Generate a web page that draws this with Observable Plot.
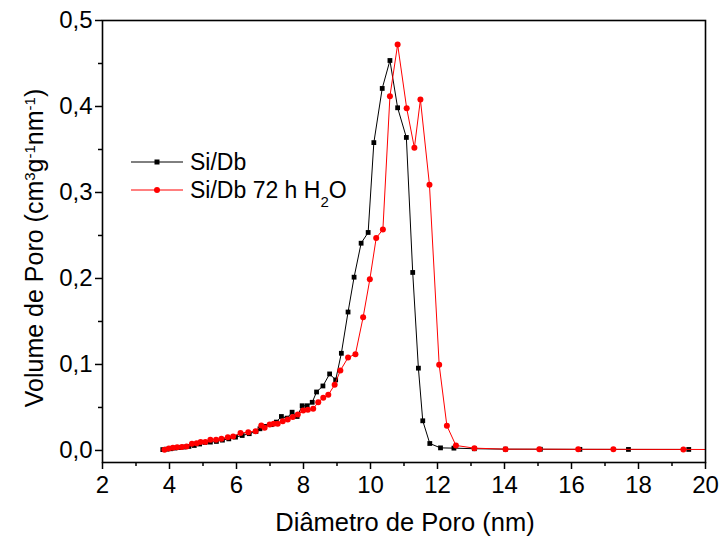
<!DOCTYPE html>
<html><head><meta charset="utf-8">
<script src="https://cdn.jsdelivr.net/npm/d3@7"></script>
<script src="https://cdn.jsdelivr.net/npm/@observablehq/plot@0.6"></script>
<style>
body{margin:0;background:#fff}
svg{font-family:"Liberation Sans",Arial,sans-serif}
</style>
</head><body><div id="chart"></div>
<script>
// Si/Db
const blackX = [3.80,3.92,4.04,4.16,4.29,4.43,4.58,4.74,4.90,5.06,5.22,5.40,5.58,5.77,5.97,6.17,6.38,6.58,6.70,6.84,7.04,7.19,7.34,7.51,7.66,7.81,7.96,8.11,8.26,8.39,8.58,8.78,8.96,9.13,9.33,9.51,9.72,9.93,10.10,10.35,10.58,10.81,11.07,11.26,11.43,11.56,11.77,12.09,12.49,13.10,14.03,15.07,16.25,17.70,19.50];
const blackY = [0.001,0.0015,0.002,0.0028,0.0035,0.004,0.0047,0.0058,0.0075,0.0093,0.0097,0.0105,0.012,0.0135,0.0155,0.0174,0.0195,0.022,0.0252,0.028,0.030,0.033,0.0395,0.0376,0.0445,0.0395,0.052,0.052,0.056,0.068,0.075,0.089,0.082,0.113,0.161,0.2015,0.241,0.2535,0.358,0.421,0.4535,0.3985,0.364,0.207,0.0957,0.0345,0.0081,0.003,0.0027,0.002,0.0015,0.0014,0.0013,0.0012,0.0012];
// Si/Db 72 h H2O
const redX = [3.85,3.98,4.10,4.23,4.37,4.51,4.67,4.81,4.93,5.07,5.22,5.39,5.55,5.74,5.90,6.12,6.35,6.57,6.74,6.84,6.99,7.11,7.23,7.38,7.53,7.68,7.83,7.99,8.13,8.29,8.44,8.59,8.74,8.93,9.10,9.33,9.55,9.78,9.98,10.17,10.37,10.58,10.81,11.08,11.31,11.49,11.76,12.05,12.28,12.55,13.10,14.03,15.04,16.20,17.25,19.34,20.60];
const redY = [0.0008,0.0023,0.0031,0.0038,0.0040,0.0047,0.0078,0.0085,0.0098,0.0098,0.0124,0.0124,0.0136,0.0155,0.0163,0.0202,0.0213,0.0224,0.0291,0.0264,0.0302,0.031,0.031,0.034,0.036,0.0388,0.0419,0.0465,0.0473,0.0485,0.0562,0.0612,0.0647,0.0763,0.093,0.108,0.112,0.155,0.199,0.247,0.257,0.412,0.472,0.398,0.352,0.408,0.309,0.0996,0.0287,0.0058,0.0027,0.0015,0.0015,0.0013,0.0013,0.0012,0.0011];

const xTicks = [2,4,6,8,10,12,14,16,18,20];
const xMinor = [3,5,7,9,11,13,15,17,19];
const yTicks = [0,0.1,0.2,0.3,0.4,0.5];
const yMinor = [0.05,0.15,0.25,0.35,0.45];

const black = blackX.map((x,i)=>({x, y: blackY[i]}));
const red = redX.map((x,i)=>({x, y: redY[i]}));
const fmt = d => d.toFixed(1).replace(".", ",");

const chart = Plot.plot({
  width: 721, height: 541,
  marginLeft: 102, marginRight: 16, marginTop: 20, marginBottom: 79,
  style: {fontSize: "24px", fontFamily: "Liberation Sans, Arial, sans-serif", color: "black", background: "white"},
  x: {domain: [2, 20]},
  y: {domain: [-0.014, 0.5]},
  marks: [
    Plot.axisX({ticks: xMinor, tickSize: 4, fill: "none", tickFormat: null, label: null, strokeWidth: 1.5}),
    Plot.axisX({ticks: xTicks, tickSize: 7, tickPadding: 6, tickFormat: d => String(d), label: null, strokeWidth: 1.5}),
    Plot.axisY({ticks: yMinor, tickSize: 4, fill: "none", tickFormat: null, label: null, strokeWidth: 1.5}),
    Plot.axisY({ticks: yTicks, tickSize: 7, tickPadding: 3, tickFormat: fmt, label: null, strokeWidth: 1.5}),
    Plot.line(black, {x: "x", y: "y", stroke: "black", strokeWidth: 1, clip: true}),
    Plot.dot(black, {x: "x", y: "y", symbol: "square", fill: "black", r: 2.7, clip: true}),
    Plot.line(red, {x: "x", y: "y", stroke: "#ff0000", strokeWidth: 1, clip: true}),
    Plot.dot(red, {x: "x", y: "y", fill: "#ff0000", r: 3, clip: true}),
    Plot.frame({stroke: "black", strokeWidth: 1.6})
  ]
});
document.getElementById("chart").appendChild(chart);

const svg = d3.select(chart);
// x title
svg.append("text").attr("x", 405).attr("y", 531).attr("text-anchor", "middle")
  .attr("font-size", 25.5).attr("fill", "black").text("Diâmetro de Poro (nm)");
// y title with superscripts
const yt = svg.append("text").attr("transform", "translate(43,248) rotate(-90)")
  .attr("text-anchor", "middle").attr("font-size", 25).attr("fill", "black");
yt.append("tspan").text("Volume de Poro (cm");
yt.append("tspan").attr("baseline-shift", "super").attr("font-size", 15).text("3");
yt.append("tspan").text("g");
yt.append("tspan").attr("baseline-shift", "super").attr("font-size", 15).text("-1");
yt.append("tspan").text("nm");
yt.append("tspan").attr("baseline-shift", "super").attr("font-size", 15).text("-1");
yt.append("tspan").text(")");

// legend
const lg = svg.append("g").attr("text-anchor", "start");
lg.append("line").attr("x1", 131).attr("x2", 183).attr("y1", 162).attr("y2", 162).attr("stroke", "black").attr("stroke-width", 1);
lg.append("rect").attr("x", 154.5).attr("y", 159.5).attr("width", 5).attr("height", 5).attr("fill", "black");
lg.append("text").attr("x", 190).attr("y", 170).attr("text-anchor", "start").attr("font-size", 23).attr("fill", "black").text("Si/Db");
lg.append("line").attr("x1", 131).attr("x2", 183).attr("y1", 190).attr("y2", 190).attr("stroke", "#ff0000").attr("stroke-width", 1);
lg.append("circle").attr("cx", 157).attr("cy", 190).attr("r", 3).attr("fill", "#ff0000");
const t2 = lg.append("text").attr("x", 190).attr("y", 198).attr("text-anchor", "start").attr("font-size", 23).attr("fill", "black");
t2.append("tspan").text("Si/Db 72 h H");
t2.append("tspan").attr("baseline-shift", "sub").attr("font-size", 15).text("2");
t2.append("tspan").text("O");
</script>
</body></html>
